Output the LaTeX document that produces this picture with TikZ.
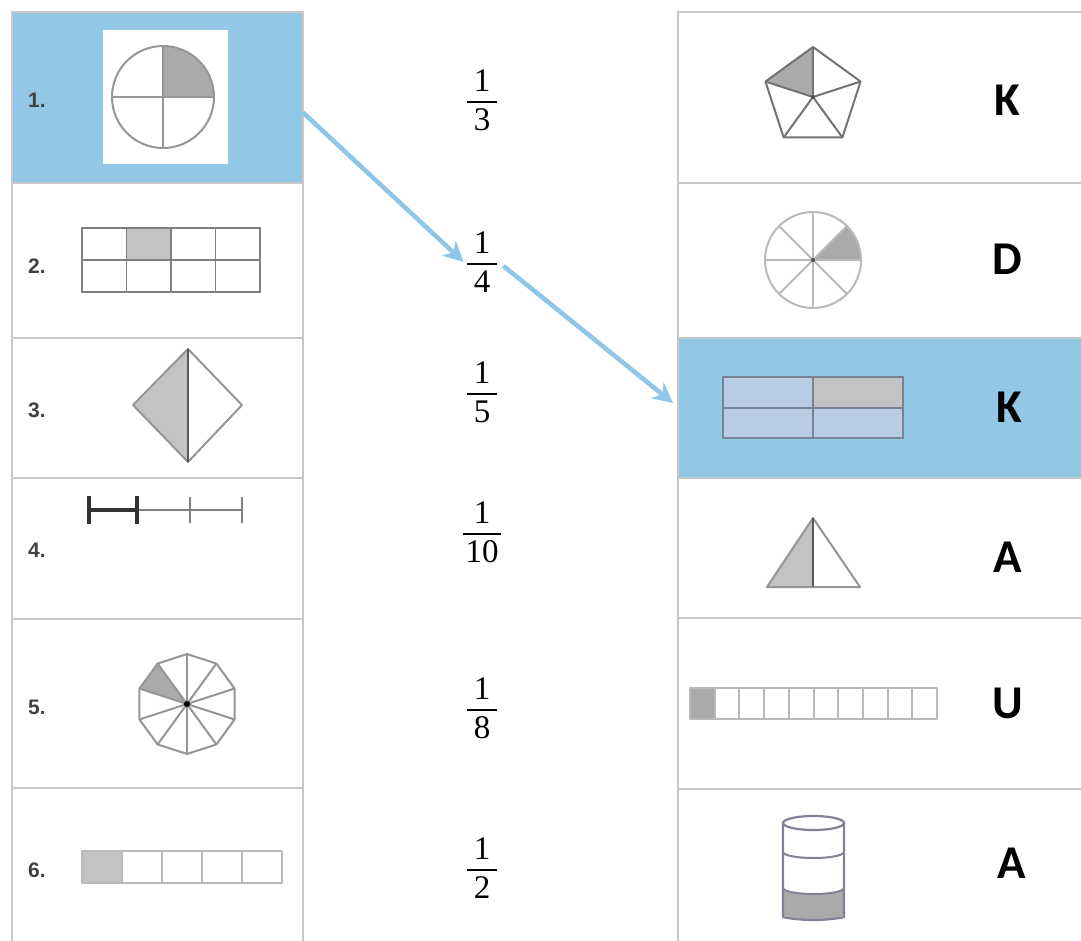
\documentclass[tikz,border=0pt]{standalone}
\usepackage{fontspec}
\usetikzlibrary{arrows.meta}
\newfontfamily\lblfont{Liberation Sans}
\newfontfamily\letfont{Carlito}
\newfontfamily\numfont{Liberation Serif}
\definecolor{hlblue}{RGB}{146,199,229}
\definecolor{arrblue}{RGB}{143,197,230}
\definecolor{gridgray}{RGB}{200,200,200}
\definecolor{shapeline}{RGB}{150,150,150}
\definecolor{lightline}{RGB}{185,185,185}
\definecolor{darkshade}{RGB}{170,170,170}
\definecolor{lightshade}{RGB}{195,195,195}
\definecolor{cellblue}{RGB}{184,204,228}
\definecolor{rectline}{RGB}{120,130,145}
\definecolor{cylline}{RGB}{130,130,150}
\newcommand\fracnum[3]{$\displaystyle{\hbox to #3{\hss\numfont #1\hss}\above 2pt\hbox to #3{\hss\numfont #2\hss}}$}
\begin{document}
\begin{tikzpicture}[x=1pt,y=-1pt,
  cell/.style={draw=gridgray, line width=2pt, inner sep=0pt, outer sep=0pt, anchor=north west},
  lbl/.style={anchor=west, inner sep=0pt, font=\lblfont\bfseries\fontsize{21}{24}\selectfont, text=black!75},
  letter/.style={inner sep=0pt, font=\letfont\bfseries\fontsize{47}{50}\selectfont},
  fr/.style={anchor=base, inner sep=2pt, font=\fontsize{33}{38}\selectfont},
  sline/.style={draw=shapeline, line width=2pt, line join=round},
  conn/.style={draw=arrblue, line width=4.5pt, -{Stealth[length=20pt,width=20pt,inset=6pt]}}]
\useasboundingbox (0,0) rectangle (1081,941);
\fill[white] (0,0) rectangle (1081,941);
% left column cells
\node[cell, fill=hlblue, minimum width=291pt, minimum height=171pt] (L1) at (12,12) {};
\node[cell, minimum width=291pt, minimum height=155pt] (L2) at (12,183) {};
\node[cell, minimum width=291pt, minimum height=140pt] (L3) at (12,338) {};
\node[cell, minimum width=291pt, minimum height=141pt] (L4) at (12,478) {};
\node[cell, minimum width=291pt, minimum height=169pt] (L5) at (12,619) {};
\node[cell, minimum width=291pt, minimum height=170pt] (L6) at (12,788) {};
% right column cells
\node[cell, minimum width=420pt, minimum height=171pt] (R1) at (678,12) {};
\node[cell, minimum width=420pt, minimum height=155pt] (R2) at (678,183) {};
\node[cell, fill=hlblue, minimum width=420pt, minimum height=140pt] (R3) at (678,338) {};
\node[cell, minimum width=420pt, minimum height=140pt] (R4) at (678,478) {};
\node[cell, minimum width=420pt, minimum height=171pt] (R5) at (678,618) {};
\node[cell, minimum width=420pt, minimum height=170pt] (R6) at (678,789) {};
% left labels
\node[lbl] (n1) at (28,100) {1.};
\node[lbl] (n2) at (28,266) {2.};
\node[lbl] (n3) at (28,410) {3.};
\node[lbl] (n4) at (28,550) {4.};
\node[lbl] (n5) at (28,707) {5.};
\node[lbl] (n6) at (28,870) {6.};
% 1: circle quarters
\fill[white] (103,30) rectangle (228,164);
\fill[darkshade] (163,97) -- ++(51,0) arc[start angle=0, end angle=-90, radius=51] -- cycle;
\draw[sline] (163,97) circle[radius=51];
\draw[sline] (112,97) -- (214,97) (163,46) -- (163,148);
% 2: 4x2 grid
\fill[lightshade] (126.5,228) rectangle (171,260);
\draw[draw=black!50, line width=1.8pt] (82,228) rectangle (260,292) (82,260) -- (260,260)
  (126.5,228) -- (126.5,292) (171,228) -- (171,292) (215.5,228) -- (215.5,292);
% 3: diamond
\fill[lightshade] (188,349) -- (133,405) -- (188,462) -- cycle;
\draw[sline] (188,349) -- (242,405) -- (188,462) -- (133,405) -- cycle;
\draw[draw=black!65, line width=2pt] (188,349) -- (188,462);
% 4: number line
\draw[draw=black!50, line width=2pt] (137,510) -- (242,510) (190,497) -- (190,523) (242,497) -- (242,523);
\draw[draw=black!80, line width=3.5pt] (89,510) -- (137,510) (89,496) -- (89,524) (137,496) -- (137,524);
% 5: decagon
\begin{scope}[shift={(187,704)}]
\fill[darkshade] (0,0) -- (-126:50) -- (-162:50) -- cycle;
\foreach \a in {18,54,...,342} \draw[sline] (0,0) -- (\a:50);
\draw[sline] (18:50) -- (54:50) -- (90:50) -- (126:50) -- (162:50) -- (198:50) -- (234:50) -- (270:50) -- (306:50) -- (342:50) -- cycle;
\fill[black] (0,0) circle[radius=3];
\end{scope}
% 6: strip of five
\fill[lightshade] (82,851) rectangle (122,883);
\draw[sline, draw=lightline] (82,851) rectangle (282,883) (122,851) -- (122,883) (162,851) -- (162,883) (202,851) -- (202,883) (242,851) -- (242,883);
% fractions
\node[fr] (f1) at (482,108) {\fracnum{1}{3}{30pt}};
\node[fr] (f2) at (482,270) {\fracnum{1}{4}{30pt}};
\node[fr] (f3) at (482,400) {\fracnum{1}{5}{30pt}};
\node[fr] (f4) at (482,540) {\fracnum{1}{10}{38pt}};
\node[fr] (f5) at (482,716) {\fracnum{1}{8}{30pt}};
\node[fr] (f6) at (482,876) {\fracnum{1}{2}{30pt}};
% right R1: pentagon
\begin{scope}[shift={(813,97)}]
\fill[darkshade] (0,0) -- (-90:50) -- (-162:50) -- cycle;
\foreach \a in {-18,-90,-162,-234,-306} \draw[sline, draw=black!55] (0,0) -- (\a:50);
\draw[sline, draw=black!55] (-18:50) -- (-90:50) -- (-162:50) -- (-234:50) -- (-306:50) -- cycle;
\fill[black!70] (0,0) circle[radius=2];
\end{scope}
% R2: circle in eighths
\begin{scope}[shift={(813,260)}]
\fill[darkshade] (0,0) -- (48,0) arc[start angle=0, end angle=-45, radius=48] -- cycle;
\foreach \a in {0,45,...,315} \draw[sline, draw=lightline] (0,0) -- (\a:48);
\draw[sline, draw=lightline] (0,0) circle[radius=48];
\fill[black!70] (0,0) circle[radius=2];
\end{scope}
% R3: 2x2 rectangle
\fill[cellblue] (723,377) rectangle (903,438);
\fill[lightshade] (813,377) rectangle (903,407.5);
\draw[draw=rectline, line width=2pt] (723,377) rectangle (903,438) (723,407.5) -- (903,407.5) (813,377) -- (813,438);
% R4: triangle
\fill[lightshade] (813,518) -- (767,587) -- (813,587) -- cycle;
\draw[sline] (813,518) -- (860,587) -- (767,587) -- cycle;
\draw[draw=black!65, line width=2pt] (813,518) -- (813,587);
% R5: strip of ten
\fill[darkshade] (690,688) rectangle (714.7,719);
\draw[sline, draw=lightline] (690,688) rectangle (937,719);
\foreach \i in {1,...,9} \draw[sline, draw=lightline] (690+24.7*\i,688) -- (690+24.7*\i,719);
% R6: cylinder
\fill[darkshade] (783,888) arc[start angle=180, end angle=0, x radius=30.5, y radius=6] -- (844,914) arc[start angle=0, end angle=180, x radius=30.5, y radius=6] -- cycle;
\draw[draw=cylline, line width=2.2pt] (813.5,823) ellipse[x radius=30.5, y radius=7];
\draw[draw=cylline, line width=2.2pt, rounded corners=3pt] (783,823) -- (783,914) arc[start angle=180, end angle=0, x radius=30.5, y radius=6] -- (844,823);
\draw[draw=cylline, line width=2pt] (783,852) arc[start angle=180, end angle=0, x radius=30.5, y radius=6];
\draw[draw=cylline, line width=2pt] (783,888) arc[start angle=180, end angle=0, x radius=30.5, y radius=6];
% letters
\node[letter] (k1) at (1007,100) {K};
\node[letter] (d2) at (1007,259) {D};
\node[letter] (k3) at (1009,407) {K};
\node[letter] (a4) at (1008,557) {A};
\node[letter] (u5) at (1008,703) {U};
\node[letter] (a6) at (1012,863) {A};
% connectors
\draw[conn] ([yshift=-15pt]L1.east) -- (f2.west);
\draw[conn] ([xshift=3pt,yshift=-4pt]f2.east) -- ([xshift=-5pt,yshift=5pt]R3.west);
\end{tikzpicture}
\end{document}
